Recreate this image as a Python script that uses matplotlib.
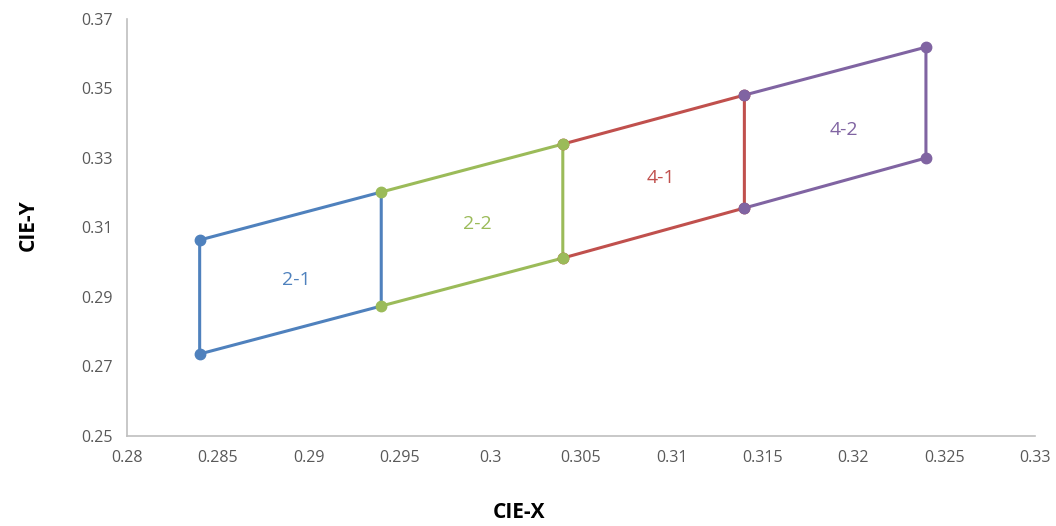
import matplotlib
matplotlib.use("Agg")
import matplotlib.pyplot as plt

#Data (CIE x, y corners of each region)
blue_x = [0.284, 0.284, 0.294, 0.294, 0.284]
blue_y = [0.2736, 0.3064, 0.3202, 0.2874, 0.2736]
green_x = [0.294, 0.304, 0.304, 0.294]
green_y = [0.2874, 0.3012, 0.334, 0.3202]
red_x = [0.304, 0.314, 0.314, 0.304]
red_y = [0.3012, 0.3156, 0.3481, 0.334]
purple_x = [0.314, 0.324, 0.324, 0.314]
purple_y = [0.3156, 0.330, 0.3619, 0.3481]

labels = ["2-1", "2-2", "4-1", "4-2"]
label_x = [0.2893, 0.2993, 0.3094, 0.3195]
label_y = [0.2949, 0.311, 0.3242, 0.3381]

x_ticks = [0.28, 0.285, 0.29, 0.295, 0.30, 0.305, 0.31, 0.315, 0.32, 0.325, 0.33]
x_tick_labels = ["0.28", "0.285", "0.29", "0.295", "0.3", "0.305", "0.31", "0.315", "0.32", "0.325", "0.33"]
y_ticks = [0.25, 0.27, 0.29, 0.31, 0.33, 0.35, 0.37]
y_tick_labels = ["0.25", "0.27", "0.29", "0.31", "0.33", "0.35", "0.37"]

blue = "#4F81BD"
green = "#9BBB59"
red = "#C0504D"
purple = "#8064A2"

plt.rcParams['font.family'] = ['Open Sans', 'DejaVu Sans']

fig = plt.figure(figsize=(10.56, 5.26), dpi=100)
ax = fig.add_axes([0.1203, 0.1711, 0.8597, 0.7928])

#Lines
lw = 2.2
ax.plot(blue_x, blue_y, color=blue, lw=lw, zorder=2)
ax.plot(green_x, green_y, color=green, lw=lw, zorder=2)
ax.plot(red_x, red_y, color=red, lw=lw, zorder=2)
ax.plot(purple_x, purple_y, color=purple, lw=lw, zorder=2)

#Markers (order so shared corners show the same colour as the reference)
ms = 7.5
ax.plot(blue_x[:2], blue_y[:2], "o", color=blue, ms=ms, zorder=3)
ax.plot(red_x, red_y, "o", color=red, ms=ms, zorder=3)
ax.plot(green_x, green_y, "o", color=green, ms=ms, zorder=4)
ax.plot(purple_x, purple_y, "o", color=purple, ms=ms, zorder=5)

#Region labels
colors = [blue, green, red, purple]
for i in range(len(labels)):
    ax.text(label_x[i], label_y[i], labels[i], color=colors[i], fontsize=14,
            ha="center", va="center")

ax.set_xlim(0.28, 0.33)
ax.set_ylim(0.25, 0.37)
ax.set_xticks(x_ticks)
ax.set_xticklabels(x_tick_labels)
ax.set_yticks(y_ticks)
ax.set_yticklabels(y_tick_labels)
ax.tick_params(length=0, labelsize=11.5, labelcolor="#595959", pad=10)

for side in ["top", "right"]:
    ax.spines[side].set_visible(False)
for side in ["left", "bottom"]:
    ax.spines[side].set_color("#BFBFBF")
    ax.spines[side].set_linewidth(1.2)

fig.text(519 / 1056, 1 - 512 / 526, "CIE-X", fontsize=15, fontweight="bold",
         ha="center", va="center")
fig.text(28 / 1056, 1 - 225 / 526, "CIE-Y", fontsize=15, fontweight="bold",
         ha="center", va="center", rotation=90)

fig.savefig("out.png", dpi=100)
